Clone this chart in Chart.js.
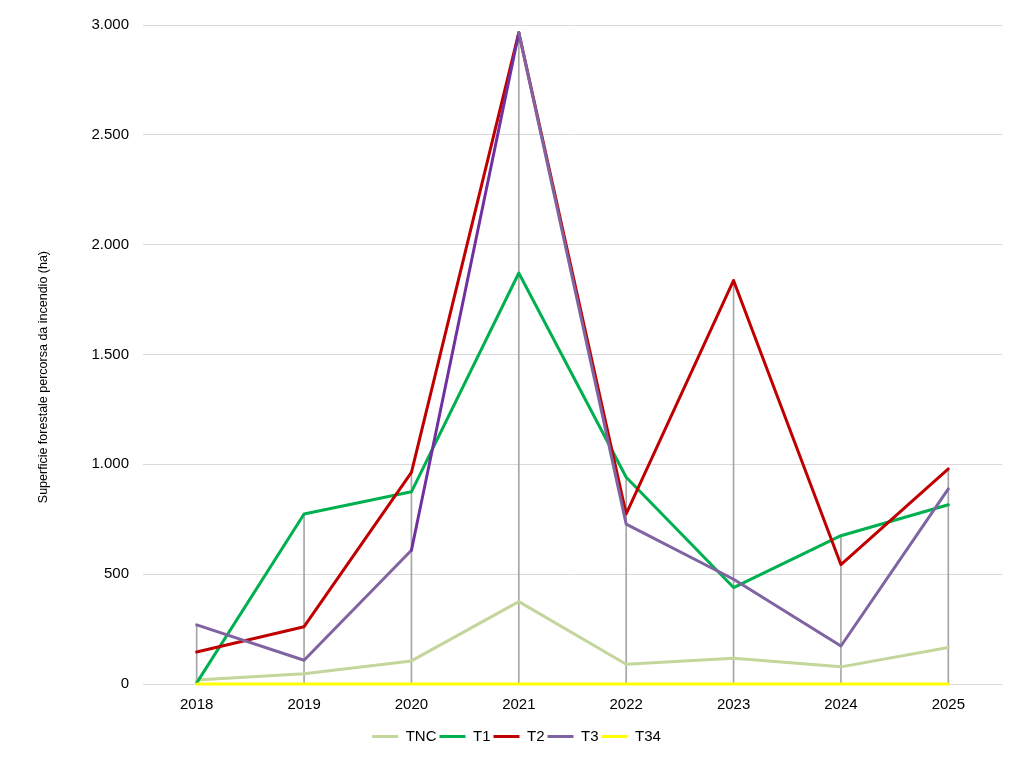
<!DOCTYPE html>
<html>
<head>
<meta charset="utf-8">
<script src="https://cdn.jsdelivr.net/npm/chart.js@4/dist/chart.umd.min.js"></script>
<style>
  html, body { margin: 0; padding: 0; background: #fff; }
  #wrap { width: 1017px; height: 766px; }
</style>
</head>
<body>
<div id="wrap"><canvas id="chart"></canvas></div>
<script>
// anni
let anni = ['2018', '2019', '2020', '2021', '2022', '2023', '2024', '2025'];

// superficie forestale percorsa (ha) per tipologia
let tnc = [18, 47, 105, 375, 90, 117, 78, 166];
let t1  = [5, 774, 875, 1871, 941, 439, 675, 816];
let t2  = [146, 261, 963, 2965, 774, 1837, 543, 979];
let t3  = [269, 108, 609, 2965, 728, 477, 173, 888];
let t34 = [0, 0, 0, 0, 0, 0, 0, 0];

let yTicks = [0, 500, 1000, 1500, 2000, 2500, 3000];

// linee verticali da 0 al massimo di ogni anno
let maxAnno = anni.map(function(a, i) {
  return Math.max(tnc[i], t1[i], t2[i], t3[i], t34[i]);
});

Chart.defaults.font.family = '"Liberation Sans", Arial, sans-serif';
Chart.defaults.font.size = 15;
Chart.defaults.color = '#000';

var ctx = document.getElementById('chart').getContext('2d');
var chart = new Chart(ctx, {
  type: 'line',
  data: {
    labels: anni,
    datasets: [{
      label: 'TNC',
      data: tnc,
      borderColor: '#C3D69B',
      backgroundColor: '#C3D69B',
      borderWidth: 3,
      order: 5
    }, {
      label: 'T1',
      data: t1,
      borderColor: '#00B050',
      backgroundColor: '#00B050',
      borderWidth: 3,
      order: 4
    }, {
      label: 'T2',
      data: t2,
      borderColor: '#C00000',
      backgroundColor: '#C00000',
      borderWidth: 3,
      order: 3
    }, {
      label: 'T3',
      data: t3,
      borderColor: '#8064A2',
      backgroundColor: '#8064A2',
      borderWidth: 3,
      segment: {
        borderColor: function(c) { return c.p0DataIndex === 2 ? '#7030A0' : undefined; }
      },
      order: 2
    }, {
      label: 'T34',
      data: t34,
      borderColor: '#FFFF00',
      backgroundColor: '#FFFF00',
      borderWidth: 3,
      clip: 5,
      order: 1
    }, {
      type: 'bar',
      label: 'drop',
      data: maxAnno.map(function(m) { return [0, m]; }),
      backgroundColor: '#A6A6A6',
      barThickness: 1,
      order: 10
    }]
  },
  options: {
    responsive: true,
    maintainAspectRatio: false,
    animation: false,
    layout: { padding: { left: 31, right: 15, top: 25, bottom: 12 } },
    elements: {
      line: { borderWidth: 3, tension: 0, borderJoinStyle: 'round', borderCapStyle: 'round' },
      point: { radius: 0, hoverRadius: 0 }
    },
    scales: {
      x: {
        offset: true,
        grid: { display: false, drawTicks: false },
        border: { display: false },
        ticks: { padding: 12, maxRotation: 0 }
      },
      y: {
        min: 0,
        max: 3000,
        afterBuildTicks: function(scale) {
          scale.ticks = yTicks.map(function(v) { return { value: v }; });
        },
        afterFit: function(scale) { scale.width = 112; },
        grid: { color: '#D9D9D9', lineWidth: 1, drawTicks: false },
        border: { display: false },
        ticks: {
          padding: 14,
          callback: function(v) { return v.toLocaleString('it-IT'); }
        },
        title: {
          display: true,
          // spazi finali: il titolo nell'originale sta un po' più in basso
          text: 'Superficie forestale percorsa da incendio (ha)' + '\u00A0'.repeat(13),
          font: { size: 12.5 },
          padding: { top: 5, bottom: 0 }
        }
      }
    },
    plugins: {
      tooltip: { enabled: false },
      legend: {
        position: 'bottom',
        labels: {
          usePointStyle: true,
          pointStyle: 'line',
          pointStyleWidth: 26,
          padding: 3,
          filter: function(item) { return item.text !== 'drop'; },
          sort: function(a, b) { return a.datasetIndex - b.datasetIndex; }
        }
      }
    }
  }
});
</script>
</body>
</html>
